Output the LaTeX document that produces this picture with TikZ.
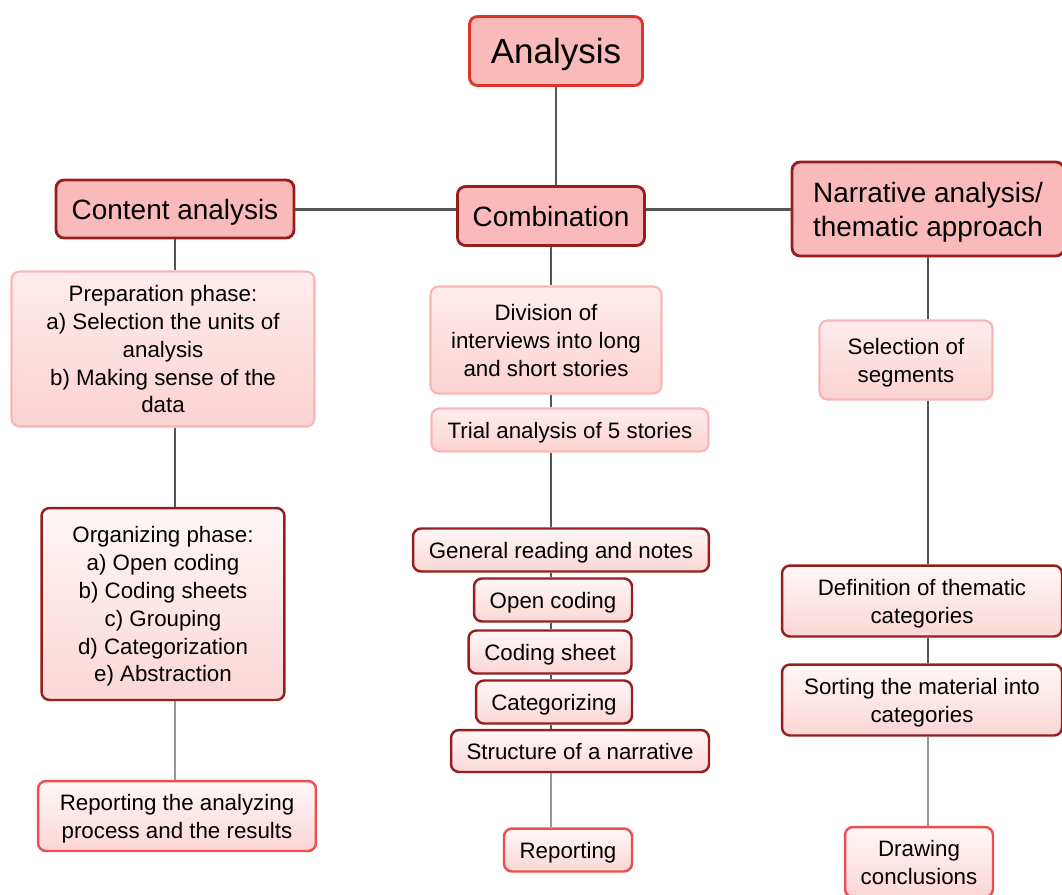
\documentclass[tikz,border=0pt]{standalone}
\usepackage{fontspec}
\setmainfont{Liberation Sans}
\usetikzlibrary{positioning}

\begin{document}
\begin{tikzpicture}[x=0.02cm, y=-0.02cm,
    box/.style={rounded corners=0.16cm, align=center, inner sep=2pt, text depth=0pt, font=\fontsize{12.7}{15.9}\selectfont},
    head/.style={box, fill=headfill, draw=darkborder, line width=1.6pt, font=\fontsize{15.9}{19.3}\selectfont},
    lightbox/.style={box, draw=lightborder, line width=1.2pt, top color=lighttop, bottom color=lightbottom},
    darkbox/.style={box, draw=darkborder, line width=1.4pt, top color=paletop, bottom color=palebottom},
    redbox/.style={box, draw=redborder, line width=1.4pt, top color=paletop, bottom color=palebottom},
    mainline/.style={draw=linegray, line width=1.7pt},
    colline/.style={draw=linegray, line width=1pt},
    faintline/.style={draw=faintgray, line width=0.7pt}]
    % Colori
    \definecolor{headfill}{RGB}{250,186,186}
    \definecolor{darkborder}{RGB}{150,30,30}
    \definecolor{analysisborder}{RGB}{222,52,42}
    \definecolor{lightborder}{RGB}{250,182,182}
    \definecolor{redborder}{RGB}{240,78,78}
    \definecolor{lighttop}{RGB}{255,236,236}
    \definecolor{lightbottom}{RGB}{252,210,210}
    \definecolor{paletop}{RGB}{255,247,247}
    \definecolor{palebottom}{RGB}{252,214,214}
    \definecolor{linegray}{RGB}{85,85,85}
    \definecolor{faintgray}{RGB}{150,150,150}

    \useasboundingbox (0,0) rectangle (1062,894);

    % Radice
    \node[head, draw=analysisborder, minimum width=3.46cm, minimum height=1.38cm,
        font=\fontsize{19.9}{24}\selectfont] (analysis) at (556,51) {Analysis};

    % Primo livello
    \node[head, minimum width=4.76cm, minimum height=1.16cm] (content) at (175,209) {Content analysis};
    \node[head, minimum width=3.74cm, minimum height=1.18cm] (combo) at (551,216) {Combination};
    \node[head, minimum width=5.44cm, minimum height=1.88cm] (narrative) at (928,209)
        {Narrative analysis/\\thematic approach};

    % Colonna sinistra
    \node[lightbox, minimum width=6.06cm, minimum height=3.10cm] (prep) at (163,349)
        {Preparation phase:\\a) Selection the units of\\analysis\\b) Making sense of the\\data};
    \node[darkbox, minimum width=4.86cm, minimum height=3.84cm] (organize) at (163,604)
        {Organizing phase:\\a) Open coding\\b) Coding sheets\\c) Grouping\\d) Categorization\\e) Abstraction};
    \node[redbox, minimum width=5.56cm, minimum height=1.40cm] (reportresults) at (177,816)
        {Reporting the analyzing\\process and the results};

    % Colonna centrale
    \node[lightbox, minimum width=4.62cm, minimum height=2.14cm] (division) at (546,340)
        {Division of\\interviews into long\\and short stories};
    \node[lightbox, minimum width=5.54cm, minimum height=0.86cm] (trial) at (570,430)
        {Trial analysis of 5 stories};
    \node[darkbox, minimum width=5.92cm, minimum height=0.86cm] (general) at (561,550)
        {General reading and notes};
    \node[darkbox, minimum width=3.16cm, minimum height=0.86cm] (opencoding) at (553,600) {Open coding};
    \node[darkbox, minimum width=3.26cm, minimum height=0.86cm] (sheet) at (550,652) {Coding sheet};
    \node[darkbox, minimum width=3.12cm, minimum height=0.86cm] (categorizing) at (554,702) {Categorizing};
    \node[darkbox, minimum width=5.16cm, minimum height=0.84cm] (structure) at (580,751)
        {Structure of a narrative};
    \node[redbox, minimum width=2.56cm, minimum height=0.86cm] (reporting) at (568,850) {Reporting};

    % Colonna destra
    \node[lightbox, minimum width=3.46cm, minimum height=1.58cm] (segments) at (906,360)
        {Selection of\\segments};
    \node[darkbox, minimum width=5.6cm, minimum height=1.42cm] (definition) at (922,601)
        {Definition of thematic\\categories};
    \node[darkbox, minimum width=5.6cm, minimum height=1.42cm] (sorting) at (922,700)
        {Sorting the material into\\categories};
    \node[redbox, minimum width=2.96cm, minimum height=1.40cm] (conclusions) at (919,862)
        {Drawing\\conclusions};

    % Collegamenti principali
    \draw[mainline] (analysis.south) -- (analysis.south |- combo.north);
    \draw[mainline] (content.east) -- (content.east -| combo.west);
    \draw[mainline] (combo.east |- narrative.west) -- (narrative.west);

    % Collegamenti colonna sinistra
    \draw[colline] (content.south) -- (content.south |- prep.north);
    \draw[colline] (content.south |- prep.south) -- (content.south |- organize.north);
    \draw[faintline] (content.south |- organize.south) -- (content.south |- reportresults.north);

    % Collegamenti colonna centrale
    \draw[mainline] (combo.south) -- (combo.south |- division.north);
    \draw[colline] (combo.south |- division.south) -- (combo.south |- trial.north);
    \draw[colline] (combo.south |- trial.south) -- (combo.south |- general.north);
    \draw[colline] (combo.south |- general.south) -- (combo.south |- opencoding.north);
    \draw[colline] (combo.south |- opencoding.south) -- (combo.south |- sheet.north);
    \draw[colline] (combo.south |- sheet.south) -- (combo.south |- categorizing.north);
    \draw[colline] (combo.south |- categorizing.south) -- (combo.south |- structure.north);
    \draw[faintline] (combo.south |- structure.south) -- (combo.south |- reporting.north);

    % Collegamenti colonna destra
    \draw[colline] (narrative.south) -- (narrative.south |- segments.north);
    \draw[colline] (narrative.south |- segments.south) -- (narrative.south |- definition.north);
    \draw[colline] (narrative.south |- definition.south) -- (narrative.south |- sorting.north);
    \draw[faintline] (narrative.south |- sorting.south) -- (narrative.south |- conclusions.north);
\end{tikzpicture}
\end{document}
